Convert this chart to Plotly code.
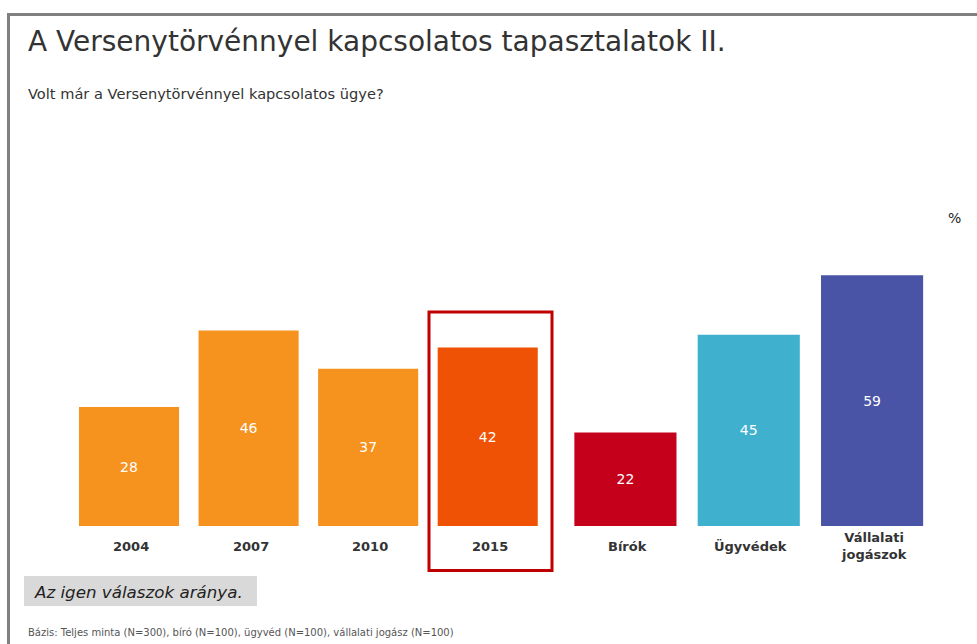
import plotly.graph_objects as go

W, H = 977, 644

years = ["2004", "2007", "2010", "2015"]
year_values = [28, 46, 37, 42]
year_colors = ["#F6921E", "#F6921E", "#F6921E", "#EF5205"]

groups = ["Bírók", "Ügyvédek", "Vállalati<br>jogászok"]
group_values = [22, 45, 59]
group_colors = ["#C4001A", "#3FB1CE", "#4954A6"]

title_text = "A Versenytörvénnyel kapcsolatos tapasztalatok II."
subtitle_text = "Volt már a Versenytörvénnyel kapcsolatos ügye?"
note_text = "Az igen válaszok aránya."
base_text = "Bázis: Teljes minta (N=300), bíró (N=100), ügyvéd (N=100), vállalati jogász (N=100)"
unit_text = "%"

FONT = "DejaVu Sans"

def px(x):
    return x / W

def py(y):
    return 1 - y / H

fig = go.Figure()

fig.add_trace(go.Bar(
    x=years, y=year_values, marker=dict(color=year_colors, line=dict(width=0)),
    text=year_values, textposition="inside", insidetextanchor="middle",
    textfont=dict(family=FONT, size=14, color="white"),
    width=0.837, xaxis="x", yaxis="y", hoverinfo="x+y", showlegend=False,
))
fig.add_trace(go.Bar(
    x=groups, y=group_values, marker=dict(color=group_colors, line=dict(width=0)),
    text=group_values, textposition="inside", insidetextanchor="middle",
    textfont=dict(family=FONT, size=14, color="white"),
    width=0.828, xaxis="x2", yaxis="y2", hoverinfo="x+y", showlegend=False,
))

y_dom = [py(526), py(249.75)]
axis_common = dict(showgrid=False, zeroline=False, showline=False, showticklabels=False, ticks="")
fig.update_layout(
    width=W, height=H,
    margin=dict(l=0, r=0, t=0, b=0),
    paper_bgcolor="white", plot_bgcolor="rgba(0,0,0,0)",
    font=dict(family=FONT, color="#333333"),
    xaxis=dict(domain=[px(69.25), px(547.5)], type="category", range=[-0.5, 3.5], **axis_common),
    yaxis=dict(domain=y_dom, range=[0, 65], **axis_common),
    xaxis2=dict(domain=[px(563.75), px(933.75)], type="category", range=[-0.5, 2.5], anchor="y2", **axis_common),
    yaxis2=dict(domain=y_dom, range=[0, 65], anchor="x2", **axis_common),
)

annotations = []
for i, cat in enumerate(years):
    annotations.append(dict(x=i, xref="x", xshift=2, y=py(546), yref="paper", text="<b>%s</b>" % cat,
                            showarrow=False, xanchor="center", yanchor="middle",
                            font=dict(family=FONT, size=13, color="#333333")))
for i, cat in enumerate(groups):
    annotations.append(dict(x=i, xref="x2", xshift=2, y=py(546), yref="paper", text="<b>%s</b>" % cat,
                            showarrow=False, xanchor="center", yanchor="middle",
                            font=dict(family=FONT, size=13, color="#333333")))

annotations += [
    dict(x=px(26), y=py(42), xref="paper", yref="paper", text=title_text, showarrow=False,
         xanchor="left", yanchor="middle", font=dict(family=FONT, size=28, color="#333333")),
    dict(x=px(26), y=py(93), xref="paper", yref="paper", text=subtitle_text, showarrow=False,
         xanchor="left", yanchor="middle", font=dict(family=FONT, size=14.6, color="#333333")),
    dict(x=px(954), y=py(218), xref="paper", yref="paper", text=unit_text, showarrow=False,
         xanchor="center", yanchor="middle", font=dict(family=FONT, size=14, color="#222222")),
    dict(x=px(32), y=py(592), xref="paper", yref="paper", text="<i>%s</i>" % note_text, showarrow=False,
         xanchor="left", yanchor="middle", font=dict(family=FONT, size=16.7, color="#222222")),
    dict(x=px(26), y=py(632), xref="paper", yref="paper", text=base_text, showarrow=False,
         xanchor="left", yanchor="middle", font=dict(family=FONT, size=10, color="#555555")),
]
fig.update_layout(annotations=annotations)

shapes = [
    # frame
    dict(type="line", xref="paper", yref="paper", x0=px(8.5), x1=px(8.5), y0=py(13), y1=0,
         line=dict(color="#808080", width=3)),
    dict(type="line", xref="paper", yref="paper", x0=px(7), x1=1, y0=py(14.5), y1=py(14.5),
         line=dict(color="#808080", width=3)),
    # note box
    dict(type="rect", xref="paper", yref="paper", x0=px(24), x1=px(257), y0=py(576), y1=py(606),
         fillcolor="#D9D9D9", line=dict(width=0), layer="below"),
    # highlight box
    dict(type="rect", xref="paper", yref="paper", x0=px(429), x1=px(552), y0=py(312), y1=py(570.5),
         line=dict(color="#C00000", width=3), fillcolor="rgba(0,0,0,0)"),
]
fig.update_layout(shapes=shapes)

fig.write_html("out.html", config={"displayModeBar": False},
               post_script="document.body.style.margin='0';document.body.style.overflow='hidden';")
